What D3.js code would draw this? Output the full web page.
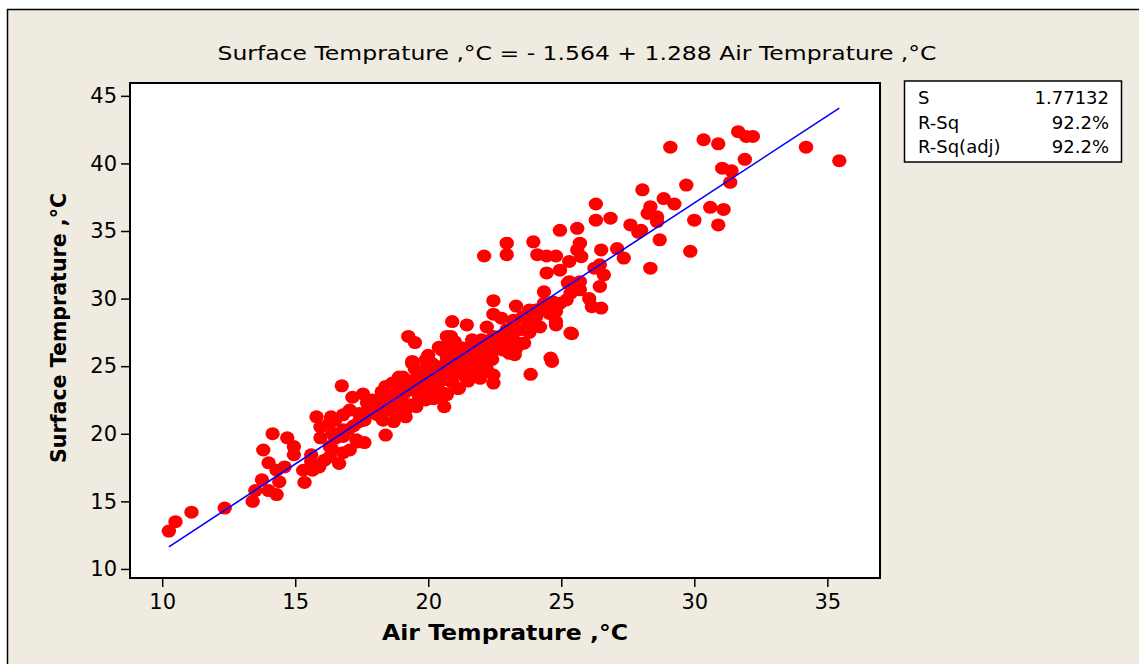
<!DOCTYPE html>
<html lang="en">
<head>
    <meta charset="UTF-8">
    <title>Surface vs Air Temprature</title>
    <script src="https://d3js.org/d3.v7.min.js"></script>
    <style>
        body { margin: 0; background: #fff; }
        svg { display: block; }
        text { font-family: "DejaVu Sans", Verdana, sans-serif; fill: #000; }
    </style>
</head>
<body>
    <svg width="1139" height="664"></svg>

    <script>
        // Air temprature readings (°C)
        const airTemp = [
            10.25, 10.5, 11.1, 12.35, 13.4, 13.5, 14.0, 14.3, 13.75, 14.4, 15.35, 14.0, 14.6, 14.3, 13.8, 14.15, 14.7, 14.95, 14.95, 15.3,
            15.6, 15.65, 15.8, 15.95, 16.35, 15.95, 16.4, 16.8, 16.4, 16.8, 16.1, 15.6, 16.8, 17.05, 17.4, 17.3, 17.6, 17.75, 17.9, 18.25,
            18.4, 18.3, 18.55, 18.8, 18.65, 19.05, 19.4, 19.9, 20.3, 20.5, 20.7, 20.55, 20.6, 19.9, 19.55, 19.15, 18.9, 19.8, 19.55, 16.5,
            16.3, 15.9, 16.8, 17.05, 16.65, 16.75, 17.15, 17.55, 19.25, 19.5,
            22.1, 22.95, 24.1, 24.45, 24.8, 24.45, 24.95, 25.3, 25.25, 25.35, 25.2, 24.35, 24.7, 24.35, 24.05, 24.8, 24.55, 25.35, 24.65, 23.85,
            22.45, 23.3, 23.8, 23.55, 22.45, 22.75, 23.2, 22.2, 20.9, 21.45, 22.45, 22.95, 23.45, 23.7, 24.05, 23.2, 23.6, 23.25, 22.45, 22.45,
            21.95, 20.85, 20.5, 21.65, 21.95, 21.3, 22.8, 22.3, 21.8, 21.3, 20.7, 20.15, 19.4, 19.9, 20.9, 21.4, 20.4, 21.15, 20.6, 18.9,
            18.4, 19.3, 19.65, 19.9, 18.9, 19.3,
            28.05, 28.85, 29.25, 28.35, 28.25, 28.6, 26.3, 26.3, 26.85, 27.6, 28.0, 28.7, 28.35, 24.95, 25.6, 25.7, 25.6, 25.75, 23.95, 22.95,
            26.5, 27.1, 27.35, 26.25, 26.45, 26.6, 25.7, 25.3, 25.7, 24.95, 24.8, 26.05, 26.15, 26.5, 26.45, 23.9, 24.1, 24.55, 24.8, 25.4,
            22.7, 23.2, 23.55, 24.6, 23.05, 22.45,
            29.1, 30.35, 30.9, 31.65, 31.95, 32.2, 34.2, 35.45, 31.9, 31.05, 31.4, 31.35, 29.7, 28.6, 27.9, 30.6, 31.1, 30.0, 30.9, 29.85,
            20.4, 22.0, 18.8, 20.7, 21.1, 16.5, 17.35, 17.8, 18.15, 16.3, 16.3,
            18.6, 18.9, 19.1, 19.2, 19.4, 19.6, 19.7, 19.8, 20.0, 20.1, 20.2, 20.3, 20.4, 20.5, 20.6, 20.7, 20.8, 20.9, 21.0, 21.1,
            21.2, 21.3, 21.5, 21.6, 21.7, 21.8, 22.0, 22.1, 22.2, 22.4, 22.6, 22.9, 23.1, 23.3, 23.8, 24.2, 19.0, 19.5, 20.0, 18.0,
            18.2, 17.6, 17.2, 17.0, 18.7, 19.2, 20.2, 21.5, 20.8, 21.0,
            19.3, 19.7, 20.1, 20.5, 20.9, 21.3, 21.7, 22.1, 22.5, 19.0, 19.6, 20.3, 20.8, 21.4, 21.9, 18.5, 18.1, 17.7, 17.4, 22.8
        ];

        // Surface temprature readings (°C), same order
        const surfTemp = [
            12.8, 13.5, 14.2, 14.5, 15.0, 15.8, 15.8, 15.5, 16.6, 16.45, 16.4, 17.85, 17.55, 17.3, 18.8, 20.0, 19.7, 19.05, 18.45, 17.3,
            18.45, 17.3, 21.25, 20.5, 21.25, 19.7, 20.05, 21.4, 18.8, 18.6, 18.05, 17.95, 19.8, 21.75, 21.5, 19.55, 19.35, 21.9, 22.5, 23.1,
            19.9, 21.0, 21.75, 22.25, 23.75, 24.2, 25.2, 25.45, 24.45, 26.2, 27.2, 22.75, 22.0, 22.5, 22.0, 21.25, 23.25, 24.0, 23.5, 21.0,
            19.05, 17.55, 20.3, 18.8, 17.8, 23.55, 22.7, 22.95, 27.2, 26.75,
            33.15, 33.25, 33.25, 33.15, 33.15, 31.9, 32.1, 32.75, 31.15, 30.4, 29.9, 30.5, 29.75, 29.65, 29.15, 28.3, 28.9, 27.45, 25.35, 24.4,
            29.85, 29.45, 29.15, 28.65, 28.85, 28.55, 28.4, 27.9, 28.3, 28.05, 27.2, 27.7, 27.7, 27.9, 28.65, 26.95, 26.7, 25.85, 24.35, 23.75,
            24.1, 27.2, 26.4, 26.95, 26.2, 26.35, 26.2, 25.95, 25.45, 25.45, 25.7, 25.2, 25.35, 24.7, 24.7, 24.2, 24.2, 23.35, 23.0, 24.2,
            23.5, 23.25, 22.75, 23.75, 21.65, 22.15,
            38.05, 37.4, 37.0, 36.8, 36.3, 36.05, 37.0, 35.8, 35.95, 35.45, 35.05, 34.35, 32.25, 35.05, 35.2, 34.1, 33.6, 33.1, 34.2, 34.1,
            33.6, 33.7, 33.0, 32.25, 32.5, 31.75, 31.25, 31.25, 30.65, 29.65, 29.05, 30.0, 29.4, 29.3, 30.9, 28.15, 28.9, 29.4, 28.05, 27.4,
            27.2, 27.9, 26.7, 25.6, 25.95, 26.45,
            41.2, 41.75, 41.45, 42.35, 42.0, 42.0, 41.2, 40.2, 40.3, 39.65, 39.45, 38.6, 38.4, 35.7, 34.9, 36.75, 36.6, 35.8, 35.45, 33.5,
            26.4, 26.95, 23.5, 22.9, 23.35, 19.65, 19.4, 21.75, 22.0, 18.3, 20.85,
            22.4, 22.8, 23.0, 23.7, 23.9, 24.3, 23.2, 22.9, 23.5, 24.0, 23.3, 25.0, 23.8, 24.6, 24.0, 25.3, 24.3, 23.8, 25.0, 24.5,
            25.8, 24.8, 25.2, 24.5, 26.1, 24.9, 25.6, 26.5, 24.8, 25.5, 26.9, 26.4, 27.3, 26.3, 27.5, 27.9, 22.3, 24.8, 25.8, 21.5,
            22.5, 21.0, 20.6, 20.3, 20.9, 21.9, 22.6, 23.9, 26.3, 26.8,
            23.4, 23.9, 24.4, 24.9, 25.4, 25.9, 25.1, 25.9, 26.2, 23.6, 24.0, 24.9, 25.7, 24.2, 25.2, 22.9, 21.4, 22.3, 20.9, 27.0
        ];

        const xTicks = [10, 15, 20, 25, 30, 35];
        const yTicks = [10, 15, 20, 25, 30, 35, 40, 45];

        // fitted line coefficients and summary table
        const intercept = -1.564, slope = 1.288;
        const statNames = ["S", "R-Sq", "R-Sq(adj)"];
        const statValues = ["1.77132", "92.2%", "92.2%"];

        const points = airTemp.map((d, i) => ({ x: d, y: surfTemp[i] }));

        const svg = d3.select("svg");
        const plot = { left: 130, right: 880, top: 83, bottom: 578 };

        // beige panel with a thin border
        svg.append("rect")
            .attr("x", 7.5).attr("y", 9.5)
            .attr("width", 1140).attr("height", 670)
            .attr("fill", "#efebe1")
            .attr("stroke", "#000")
            .attr("stroke-width", 1.5);

        const x = d3.scaleLinear().domain([8.79, 36.98]).range([plot.left, plot.right]);
        const y = d3.scaleLinear().domain([9.33, 45.95]).range([plot.bottom, plot.top]);

        // plot area
        svg.append("rect")
            .attr("x", plot.left).attr("y", plot.top)
            .attr("width", plot.right - plot.left)
            .attr("height", plot.bottom - plot.top)
            .attr("fill", "#fff");

        // points
        svg.append("g")
            .selectAll("ellipse")
            .data(points)
            .enter().append("ellipse")
            .attr("cx", d => x(d.x))
            .attr("cy", d => y(d.y))
            .attr("rx", 7.2)
            .attr("ry", 6.5)
            .attr("fill", "#ff0000");

        // regression line
        const xr = d3.extent(airTemp);
        svg.append("path")
            .datum(xr)
            .attr("fill", "none")
            .attr("stroke", "#0000ff")
            .attr("stroke-width", 1.6)
            .attr("d", d3.line().x(d => x(d)).y(d => y(intercept + slope * d)));

        // frame
        svg.append("rect")
            .attr("x", plot.left).attr("y", plot.top)
            .attr("width", plot.right - plot.left)
            .attr("height", plot.bottom - plot.top)
            .attr("fill", "none")
            .attr("stroke", "#000")
            .attr("stroke-width", 2);

        // axes
        const xAxis = svg.append("g")
            .attr("transform", `translate(0,${plot.bottom})`)
            .call(d3.axisBottom(x).tickValues(xTicks).tickSize(9).tickPadding(7));
        const yAxis = svg.append("g")
            .attr("transform", `translate(${plot.left},0)`)
            .call(d3.axisLeft(y).tickValues(yTicks).tickSize(9).tickPadding(4));
        [xAxis, yAxis].forEach(a => {
            a.select(".domain").remove();
            a.selectAll("line").attr("stroke", "#000").attr("stroke-width", 1.5);
            a.selectAll("text")
                .attr("font-family", "DejaVu Sans, sans-serif")
                .attr("font-size", 21)
                .attr("fill", "#000");
        });

        // titles
        svg.append("text")
            .attr("x", 577).attr("y", 60)
            .attr("text-anchor", "middle")
            .attr("font-size", 20)
            .attr("textLength", 719)
            .attr("lengthAdjust", "spacingAndGlyphs")
            .text("Surface Temprature ,°C =  - 1.564 + 1.288 Air Temprature ,°C");

        svg.append("text")
            .attr("x", 505).attr("y", 640)
            .attr("text-anchor", "middle")
            .attr("font-size", 21)
            .attr("font-weight", "bold")
            .attr("textLength", 246)
            .attr("lengthAdjust", "spacingAndGlyphs")
            .text("Air Temprature ,°C");

        svg.append("text")
            .attr("transform", "translate(66,328) rotate(-90)")
            .attr("text-anchor", "middle")
            .attr("font-size", 21)
            .attr("font-weight", "bold")
            .attr("textLength", 270)
            .attr("lengthAdjust", "spacingAndGlyphs")
            .text("Surface Temprature ,°C");

        // summary box
        const box = svg.append("g");
        box.append("rect")
            .attr("x", 904.5).attr("y", 81)
            .attr("width", 217).attr("height", 81)
            .attr("fill", "#fff")
            .attr("stroke", "#000")
            .attr("stroke-width", 1.5);
        statNames.forEach((s, i) => {
            box.append("text")
                .attr("x", 918).attr("y", 104 + i * 24.7)
                .attr("font-size", 18)
                .text(s);
            box.append("text")
                .attr("x", 1109).attr("y", 104 + i * 24.7)
                .attr("font-size", 18)
                .attr("text-anchor", "end")
                .text(statValues[i]);
        });
    </script>
</body>
</html>
